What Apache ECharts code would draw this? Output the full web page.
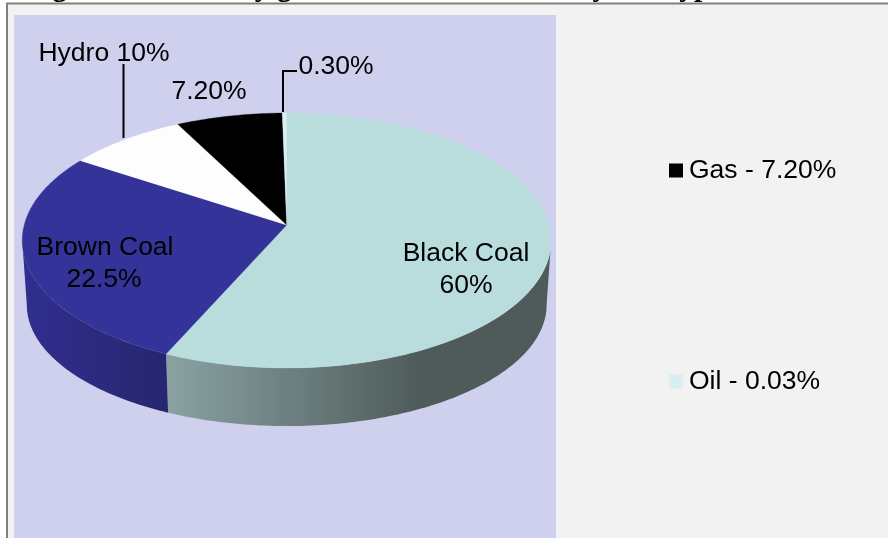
<!DOCTYPE html>
<html><head><meta charset="utf-8">
<style>html,body{margin:0;padding:0;background:#fff;overflow:hidden}#c{width:888px;height:538px}</style>
<script src="https://cdn.jsdelivr.net/npm/echarts@6/dist/echarts.min.js"></script>
</head><body><div id="c"></div>
<script>
// Slices run clockwise from 12 o'clock.
var categories = ['Black Coal', 'Brown Coal', 'Hydro', 'Gas', 'Oil'];
var shares = [56.7, 27.5, 8.2, 7.3, 0.3];
var topColors = ['#b9dcdd', '#333399', '#fdfdfd', '#000000', '#d8eef0'];
var legendNames = ['Gas', 'Oil'];
var legendLabels = ['Gas - 7.20%', 'Oil - 0.03%'];
var titleText = 'Figure 3 Electricity generation in Australia by fuel type';

var FONT = '"Liberation Sans", Arial, sans-serif';
var FS = 26.5;
var TOTAL = shares.reduce(function (a, b) { return a + b; }, 0);

// tilted-disc projection (perspective: nearer rim looks larger)
var K = 0.1216;
var TOPF = { cx: 286.7, cy: 225, rx: 262.5, ry: 125.6 };
var BOTF = { cx: 286.7, cy: 290, rx: 258, ry: 119.5 };
function project(f, deg) {
  var t = deg * Math.PI / 180, u = Math.sin(t), v = -Math.cos(t), w = 1 - K * v;
  return [f.cx + f.rx * u / w, f.cy + f.ry * v / w];
}
function arc(f, a, b) {
  var n = Math.max(2, Math.ceil(Math.abs(b - a))), pts = [];
  for (var i = 0; i <= n; i++) pts.push(project(f, a + (b - a) * i / n));
  return pts;
}
var WALL_FROM = 97, WALL_TO = 263;
var wallFills = {
  'Black Coal': { type: 'linear', x: 168, y: 0, x2: 420, y2: 0, global: true,
    colorStops: [{ offset: 0, color: '#8aa2a2' }, { offset: 1, color: '#4e5b5a' }] },
  'Brown Coal': { type: 'linear', x: 26, y: 0, x2: 168, y2: 0, global: true,
    colorStops: [{ offset: 0, color: '#302e8e' }, { offset: 1, color: '#27266f' }] }
};

function renderSlice(params, api) {
  var idx = params.seriesIndex, share = api.value(0), start = 0;
  for (var i = 0; i < idx; i++) start += shares[i];
  var a = start / TOTAL * 360, b = (start + share) / TOTAL * 360, children = [];
  var wa = Math.max(a, WALL_FROM), wb = Math.min(b, WALL_TO);
  if (wb > wa) {
    children.push({ type: 'polygon',
      shape: { points: arc(TOPF, wa, wb).concat(arc(BOTF, wa, wb).reverse()) },
      style: { fill: wallFills[categories[idx]], stroke: null } });
  }
  var top = [[TOPF.cx, TOPF.cy]].concat(arc(TOPF, a, b));
  children.push({ type: 'polygon', shape: { points: top },
    style: { fill: topColors[idx], stroke: topColors[idx], lineWidth: 0.3 } });
  return { type: 'group', children: children };
}

var series = categories.map(function (name, i) {
  return { type: 'custom', name: name, coordinateSystem: 'none', silent: true,
    itemStyle: { color: topColors[i] }, data: [[shares[i]]], renderItem: renderSlice, z: 3 };
});

function txt(text, x, y, align) {
  return { type: 'text', z: 20, silent: true, x: x, y: y,
    style: { text: text, fontFamily: FONT, fontSize: FS, fill: '#000',
      align: align || 'center', verticalAlign: 'middle' } };
}
function line(pts) {
  return { type: 'polyline', z: 19, silent: true, shape: { points: pts },
    style: { stroke: '#000', lineWidth: 2, fill: null } };
}

var chart = echarts.init(document.getElementById('c'), null, { renderer: 'canvas' });
chart.setOption({
  animation: false,
  backgroundColor: '#ffffff',
  legend: legendNames.map(function (n, i) {
    return { data: [n], left: 669, top: i === 0 ? 157 : 368, orient: 'horizontal',
      icon: 'rect', itemWidth: 14, itemHeight: 14, itemGap: 6, padding: 0,
      selectedMode: false, formatter: function () { return legendLabels[i]; },
      textStyle: { fontFamily: FONT, fontSize: FS, color: '#000', padding: [2, 0, 0, 1] } };
  }),
  series: series,
  graphic: [
    { type: 'rect', z: -5, silent: true, shape: { x: 7, y: 4, width: 881, height: 534 },
      style: { fill: '#f2f2f2', stroke: null } },
    { type: 'rect', z: -4, silent: true, shape: { x: 14, y: 15, width: 542, height: 523 },
      style: { fill: '#ced0ee', stroke: null } },
    { type: 'text', z: 2, silent: true, x: 26, y: 3.5,
      style: { text: titleText, fontFamily: '"Liberation Serif", serif', fontWeight: 'bold',
        fontSize: 29.5, fill: '#000', align: 'left', verticalAlign: 'bottom' } },
    { type: 'polyline', z: 5, silent: true, shape: { points: [[7, 538], [7, 3.5], [888, 3.5]] },
      style: { stroke: '#808080', lineWidth: 2, fill: null } },
    line([[123.5, 64], [123.5, 138]]),
    line([[283, 112], [283, 71], [297, 71]]),
    txt('Hydro 10%', 104, 53.5),
    txt('7.20%', 209, 91.5),
    txt('0.30%', 336, 66.5),
    txt('Brown Coal', 105, 247.5),
    txt('22.5%', 104, 279.5),
    txt('Black Coal', 466, 253.5),
    txt('60%', 466, 285.5)
  ]
});
</script></body></html>
